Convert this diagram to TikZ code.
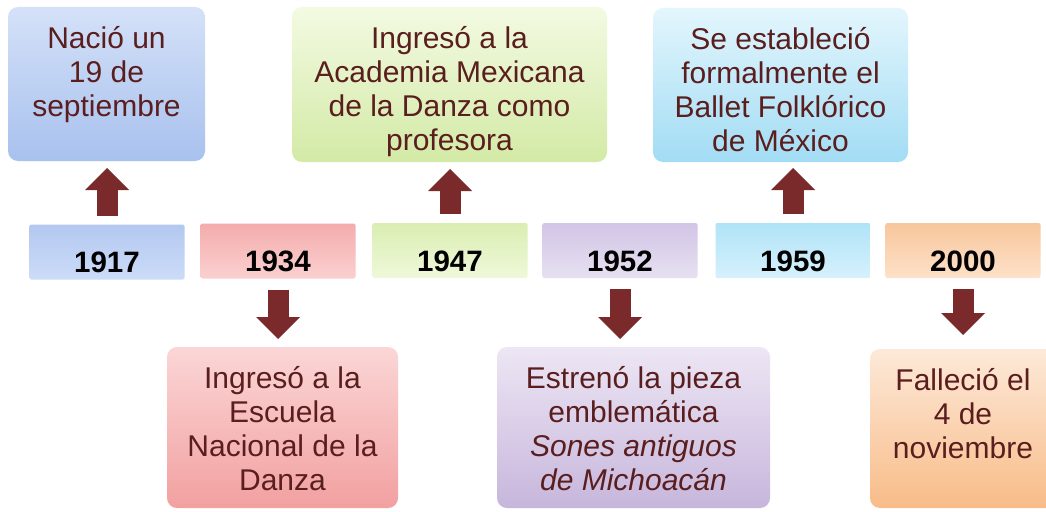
\documentclass[tikz,border=0pt]{standalone}
\usepackage{fontspec}
\setmainfont{Liberation Sans}
\usetikzlibrary{arrows.meta}
\definecolor{txtc}{HTML}{5A1E1E}
\definecolor{arrowc}{HTML}{7A2A2A}
% year box colours
\definecolor{yBlueT}{HTML}{B3C8F0}\definecolor{yBlueB}{HTML}{CCDCF8}
\definecolor{yPinkT}{HTML}{F4ACAC}\definecolor{yPinkB}{HTML}{FBD0D0}
\definecolor{yGreenT}{HTML}{DAEEB2}\definecolor{yGreenB}{HTML}{EFF8D9}
\definecolor{yPurpT}{HTML}{D2C5E6}\definecolor{yPurpB}{HTML}{E7E0F1}
\definecolor{yCyanT}{HTML}{B0E3F7}\definecolor{yCyanB}{HTML}{D6F1FC}
\definecolor{yOrT}{HTML}{F8C69C}\definecolor{yOrB}{HTML}{FDE1C9}
% event box colours
\definecolor{eBlueT}{HTML}{D4E1F8}\definecolor{eBlueB}{HTML}{A8C1EE}
\definecolor{eGreenT}{HTML}{F3FAE2}\definecolor{eGreenB}{HTML}{D3EAA6}
\definecolor{eCyanT}{HTML}{E3F6FD}\definecolor{eCyanB}{HTML}{A2DCF4}
\definecolor{ePinkT}{HTML}{FBD6D6}\definecolor{ePinkB}{HTML}{F2A0A0}
\definecolor{ePurpT}{HTML}{EDE6F4}\definecolor{ePurpB}{HTML}{C7B6DC}
\definecolor{eOrT}{HTML}{FDE9D9}\definecolor{eOrB}{HTML}{F8BC88}
\newcommand{\evtext}[3]{\parbox[c][#2][t]{#1}{\centering\fontsize{30}{34}\selectfont\color{txtc}\rule{0pt}{41pt}#3\par}}
\newcommand{\yrtext}[1]{\parbox[c][55pt][t]{155pt}{\centering\fontsize{29.5}{32}\selectfont\bfseries\rule{0pt}{48pt}#1\par}}
\tikzset{
  evbox/.style={rounded corners=10pt, inner sep=0pt, outer sep=0pt},
  yrbox/.style={rounded corners=2pt, inner sep=0pt, outer sep=0pt},
  blockarrow/.style={draw=arrowc, line width=21pt,
    -{Triangle[width=44pt,length=22pt,line width=0pt]}},
}
\begin{document}
\begin{tikzpicture}[x=1pt,y=-1pt]
\clip (0,0) rectangle (1046,511);
\fill[white] (0,0) rectangle (1046,511);
% year boxes
\node[yrbox, top color=yBlueT, bottom color=yBlueB] (y1) at (107,252) {\yrtext{1917}};
\node[yrbox, top color=yPinkT, bottom color=yPinkB] (y2) at (278,251) {\yrtext{1934}};
\node[yrbox, top color=yGreenT, bottom color=yGreenB] (y3) at (450,250.5) {\yrtext{1947}};
\node[yrbox, top color=yPurpT, bottom color=yPurpB] (y4) at (620,250.5) {\yrtext{1952}};
\node[yrbox, top color=yCyanT, bottom color=yCyanB] (y5) at (793,250.5) {\yrtext{1959}};
\node[yrbox, top color=yOrT, bottom color=yOrB] (y6) at (963,250.5) {\yrtext{2000}};
% event boxes, top row
\node[evbox, top color=eBlueT, bottom color=eBlueB] (e1) at (106.5,84)
  {\evtext{197pt}{154pt}{Nació un\\19 de\\septiembre}};
\node[evbox, top color=eGreenT, bottom color=eGreenB] (e3) at (449.5,84.5)
  {\evtext{315pt}{155pt}{Ingresó a la\\Academia Mexicana\\de la Danza como\\profesora}};
\node[evbox, top color=eCyanT, bottom color=eCyanB] (e5) at (780.5,85)
  {\evtext{255pt}{154pt}{Se estableció\\formalmente el\\Ballet Folklórico\\de México}};
% event boxes, bottom row
\node[evbox, top color=ePinkT, bottom color=ePinkB] (e2) at (282.5,427.5)
  {\evtext{231pt}{161pt}{Ingresó a la\\Escuela\\Nacional de la\\Danza}};
\node[evbox, top color=ePurpT, bottom color=ePurpB] (e4) at (633.5,427.5)
  {\evtext{273pt}{161pt}{Estrenó la pieza\\emblemática\\\textit{Sones antiguos}\\\textit{de Michoacán}}};
\node[evbox, top color=eOrT, bottom color=eOrB] (e6) at (963,428.5)
  {\evtext{186pt}{159pt}{Falleció el\\4 de\\noviembre}};
% arrows
\draw[blockarrow, shorten <=9pt, shorten >=7pt] (y1.north) -- (y1.north |- e1.south);
\draw[blockarrow, shorten <=9pt, shorten >=7pt] (y3.north) -- (y3.north |- e3.south);
\draw[blockarrow, shorten <=9pt, shorten >=6pt] (y5.north) -- (y5.north |- e5.south);
\draw[blockarrow, shorten <=11pt, shorten >=8pt] (y2.south) -- (y2.south |- e2.north);
\draw[blockarrow, shorten <=11pt, shorten >=8pt] (y4.south) -- (y4.south |- e4.north);
\draw[blockarrow, shorten <=11pt, shorten >=14pt] (y6.south) -- (y6.south |- e6.north);
\end{tikzpicture}
\end{document}
